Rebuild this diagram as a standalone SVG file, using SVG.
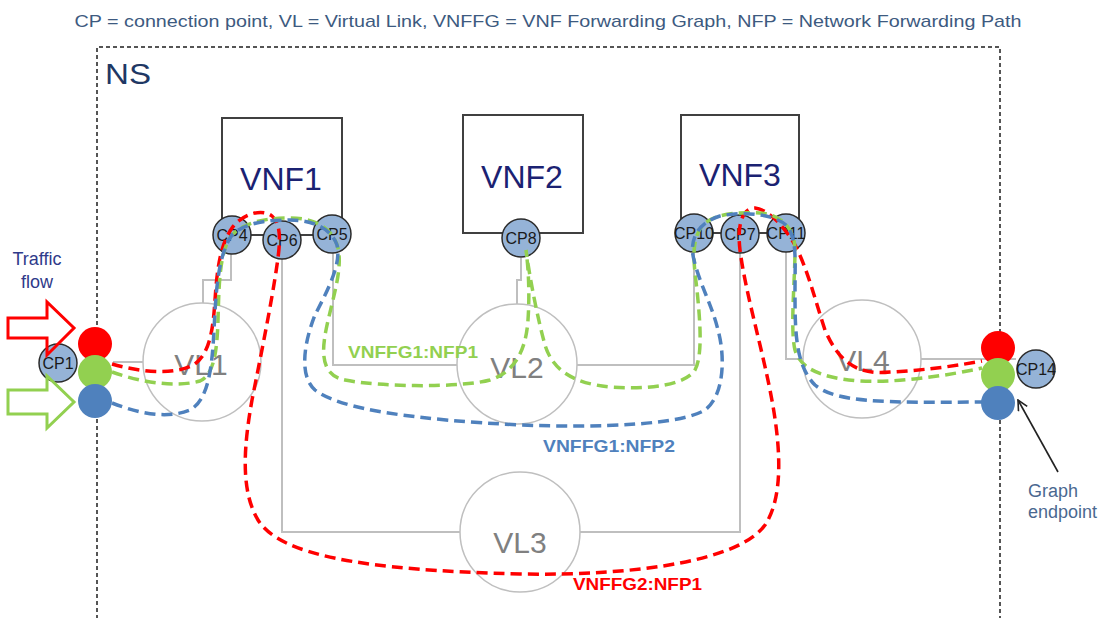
<svg xmlns="http://www.w3.org/2000/svg" width="1108" height="618" viewBox="0 0 1108 618">
<style>
.vnf{fill:#fff;stroke:#404040;stroke-width:2}
.vnft{font-family:"Liberation Sans",Arial,sans-serif;font-size:32px;fill:#1b2272;text-anchor:middle}
.cp{fill:#95b3d7;stroke:#2b2b2b;stroke-width:1.5}
.cpt{font-family:"Liberation Sans",Arial,sans-serif;font-size:16px;fill:#1a1a1a;text-anchor:middle}
.vl{fill:#fff;stroke:#bfbfbf;stroke-width:1.5}
.vlt{font-family:"Liberation Sans",Arial,sans-serif;font-size:30px;fill:#808080;text-anchor:middle}
.link{fill:none;stroke:#bfbfbf;stroke-width:2}
.path{fill:none;stroke-width:3.5;stroke-dasharray:11 6;stroke-linecap:butt}
.lbl{font-family:"Liberation Sans",Arial,sans-serif;font-size:17px;font-weight:bold}
.note{font-family:"Liberation Sans",Arial,sans-serif;font-size:18px}
</style>
<defs>
<marker id="open" viewBox="0 0 12 12" refX="11" refY="6" markerWidth="12" markerHeight="12" markerUnits="userSpaceOnUse" orient="auto">
<path d="M1,1 L11,6 L1,11" fill="none" stroke="#222" stroke-width="1.6"/>
</marker>
</defs>
<rect width="1108" height="618" fill="#fff"/>
<text x="548" y="27" font-family="'Liberation Sans',Arial,sans-serif" font-size="17" fill="#3d5a80" text-anchor="middle" textLength="947" lengthAdjust="spacingAndGlyphs">CP = connection point, VL = Virtual Link, VNFFG = VNF Forwarding Graph, NFP = Network Forwarding Path</text>
<g id="ns">
<path d="M97,640 V47 H1000 V640" fill="none" stroke="#555" stroke-width="2" stroke-dasharray="4 3"/>
<text x="105" y="84" font-family="'Liberation Sans',Arial,sans-serif" font-size="30" fill="#1f3864" textLength="46" lengthAdjust="spacingAndGlyphs">NS</text>
</g>
<g id="connectors">
<path class="link" d="M113,362 H143"/>
<path class="link" d="M203,303 V280 H231 V254"/>
<path class="link" d="M282,259 V532 H460"/>
<path class="link" d="M580,532 H740 V253"/>
<path class="link" d="M333,253 V365 H457"/>
<path class="link" d="M521,258 V280 H517 V304"/>
<path class="link" d="M577,365 H694 V252"/>
<path class="link" d="M786,252 V359 H803"/>
<path class="link" d="M921,359 H1016"/>
</g>
<g id="vl1"><circle class="vl" cx="202" cy="362" r="59"/><text class="vlt" x="201" y="375">VL1</text></g>
<g id="vl2"><circle class="vl" cx="517" cy="364" r="60"/><text class="vlt" x="517" y="378">VL2</text></g>
<g id="vl3"><circle class="vl" cx="520" cy="532" r="60"/><text class="vlt" x="520" y="553">VL3</text></g>
<g id="vl4"><circle class="vl" cx="862" cy="359" r="59"/><text class="vlt" x="863" y="371">VL4</text></g>
<g id="vnf1"><rect class="vnf" x="222" y="118" width="120" height="117"/><text class="vnft" x="281" y="190">VNF1</text></g>
<g id="vnf2"><rect class="vnf" x="463" y="115" width="120" height="118"/><text class="vnft" x="522" y="188">VNF2</text></g>
<g id="vnf3"><rect class="vnf" x="681" y="115" width="118" height="118"/><text class="vnft" x="740" y="186">VNF3</text></g>
<g id="cp4"><circle class="cp" cx="232" cy="235" r="19"/><text class="cpt" x="232" y="241">CP4</text></g>
<g id="cp6"><circle class="cp" cx="282" cy="240" r="19"/><text class="cpt" x="282" y="246">CP6</text></g>
<g id="cp5"><circle class="cp" cx="332" cy="234" r="19"/><text class="cpt" x="332" y="240">CP5</text></g>
<g id="cp8"><circle class="cp" cx="521" cy="238" r="19"/><text class="cpt" x="521" y="244">CP8</text></g>
<g id="cp10"><circle class="cp" cx="694" cy="233" r="19"/><text class="cpt" x="694" y="239">CP10</text></g>
<g id="cp7"><circle class="cp" cx="740" cy="234" r="19"/><text class="cpt" x="740" y="240">CP7</text></g>
<g id="cp11"><circle class="cp" cx="786" cy="233" r="19"/><text class="cpt" x="786" y="239">CP11</text></g>
<g id="cp1"><circle class="cp" cx="58" cy="363" r="19"/><text class="cpt" x="58" y="369">CP1</text></g>
<g id="cp14"><circle class="cp" cx="1036" cy="369" r="19"/><text class="cpt" x="1036" y="375">CP14</text></g>
<g id="arrows">
<polygon points="8,318 47,318 47,302 74,328 47,355 47,338 8,338" fill="none" stroke="#ff0000" stroke-width="3"/>
<polygon points="8,390 47,390 47,376 74,402 47,428 47,414 8,414" fill="none" stroke="#92d050" stroke-width="3"/>
<text class="note" x="37" y="265" fill="#2f3a8a" text-anchor="middle">Traffic</text>
<text class="note" x="37" y="288" fill="#2f3a8a" text-anchor="middle">flow</text>
</g>
<g id="paths">
<path class="path" stroke="#ff0000" stroke-width="4" stroke-dasharray="13 7" d="M112,364 C140,372 175,376 195,364 C210,352 213,330 215,300 C217,270 220,245 232,228 C242,214 262,208 272,216 C282,224 280,245 277,265 C272,300 262,350 252,400 C244,445 240,490 258,520 C280,555 360,570 520,574 C640,576 740,560 765,525 C785,495 780,440 770,390 C760,340 745,290 740,250 C737,225 742,208 755,208 C770,210 785,228 795,245 C808,270 815,300 825,330 C840,365 860,375 890,372 C930,370 960,365 982,361"/>
<path class="path" stroke="#92d050" d="M112,372 C140,382 175,388 200,381 C213,375 217,355 218,320 C219,280 220,250 232,235 C245,222 265,218 290,218 C315,218 333,228 338,248 C343,270 332,300 326,330 C320,360 325,376 345,380 C380,387 460,388 490,380 C515,372 526,350 528,320 C530,290 528,265 526,250 C530,280 538,320 545,345 C552,368 570,383 610,387 C650,390 685,385 695,370 C703,355 700,320 697,290 C694,265 690,240 703,225 C715,213 740,212 760,213 C780,214 795,228 795,250 C795,280 790,330 795,350 C800,368 820,378 860,381 C900,383 950,375 982,368"/>
<path class="path" stroke="#4f81bd" d="M112,403 C135,412 165,420 190,410 C208,400 212,370 214,330 C216,290 218,255 232,235 C245,222 270,220 290,220 C315,220 332,230 337,245 C342,265 325,295 315,315 C305,340 298,375 315,390 C340,410 420,420 520,425 C600,428 680,425 705,410 C725,395 725,355 718,330 C712,305 700,285 694,260 C688,238 700,222 720,216 C745,211 775,214 787,226 C797,238 795,260 795,290 C795,330 795,365 815,385 C835,402 880,403 982,402"/>
</g>
<g id="endpoints">
<circle cx="95" cy="344" r="17" fill="#ff0000"/>
<circle cx="95" cy="372" r="17" fill="#92d050"/>
<circle cx="95" cy="401" r="17" fill="#4f81bd"/>
<circle cx="998" cy="348" r="17" fill="#ff0000"/>
<circle cx="998" cy="375" r="17" fill="#92d050"/>
<circle cx="998" cy="403" r="17" fill="#4f81bd"/>
</g>
<g id="labels">
<text class="lbl" x="348" y="358" fill="#92d050" textLength="130" lengthAdjust="spacingAndGlyphs">VNFFG1:NFP1</text>
<text class="lbl" x="543" y="452" fill="#4f81bd" textLength="132" lengthAdjust="spacingAndGlyphs">VNFFG1:NFP2</text>
<text class="lbl" x="573" y="590" fill="#ff0000" textLength="129" lengthAdjust="spacingAndGlyphs">VNFFG2:NFP1</text>
</g>
<g id="graph-endpoint">
<line x1="1058" y1="472" x2="1018" y2="400" stroke="#222" stroke-width="1.6" marker-end="url(#open)"/>
<text class="note" x="1028" y="497" fill="#4a6890">Graph</text>
<text class="note" x="1028" y="518" fill="#4a6890">endpoint</text>
</g>
</svg>
